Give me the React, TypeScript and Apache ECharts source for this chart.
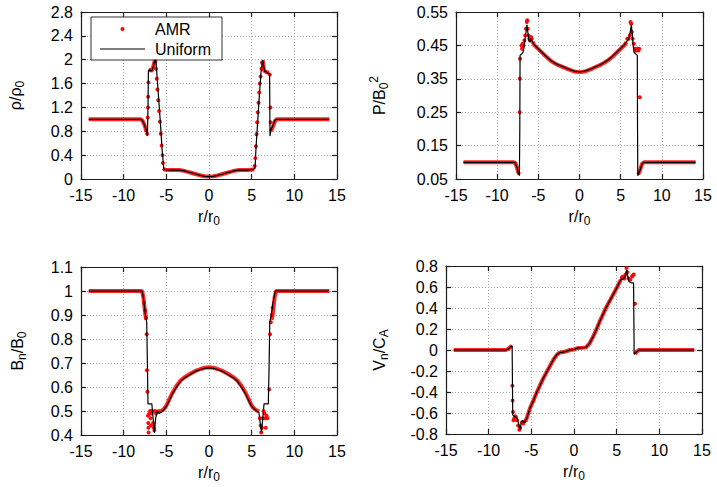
import React, { useEffect, useRef } from "react";
import * as echarts from "echarts";

type Pt = [number, number] | "-";

// ---------- axis ranges (min, max, interval) ----------
const X_RANGE = [-15, 15, 5];
const RHO_RANGE = [0, 2.8, 0.4];
const P_RANGE = [0.05, 0.55, 0.1];
const BN_RANGE = [0.4, 1.1, 0.1];
const VN_RANGE = [-0.8, 0.8, 0.2];

const LEGEND_NAMES = ["AMR", "Uniform"];

// ---------- density rho/rho0 ----------
const rhoUniform: Pt[] = [
  [-14.1, 1], [-8.0, 1], [-7.8, 0.98], [-7.6, 0.92], [-7.45, 0.86], [-7.3, 0.8], [-7.22, 0.72],
  [-7.15, 1.2], [-7.1, 1.82], [-6.9, 1.83], [-6.8, 1.81], [-6.65, 1.83], [-6.5, 1.9], [-6.3, 2.0],
  [-6.2, 1.95], [-6.05, 1.65], [-5.9, 1.35], [-5.7, 0.95], [-5.5, 0.5], [-5.3, 0.17], [-5.2, 0.155],
  [-4.5, 0.15], [-3.5, 0.15], [-3, 0.14], [-2.5, 0.12], [-2, 0.1], [-1.5, 0.08], [-1, 0.06],
  [-0.5, 0.045], [0, 0.04], [0.5, 0.045], [1, 0.06], [1.5, 0.08], [2, 0.1], [2.5, 0.12], [3, 0.14],
  [3.5, 0.15], [4.5, 0.15], [5.2, 0.16], [5.4, 0.18], [5.5, 0.5], [5.7, 0.95], [5.9, 1.4], [6.1, 1.8],
  [6.3, 2.0], [6.4, 1.9], [6.55, 1.8], [6.7, 1.8], [6.85, 1.77], [7.1, 1.77], [7.15, 0.72],
  [7.25, 0.82], [7.45, 0.88], [7.65, 0.96], [7.8, 1], [14.1, 1],
];
const rhoAmrBand: Pt[] = [
  [-14.1, 1], [-8.0, 1], [-7.8, 0.98], [-7.6, 0.92], [-7.45, 0.86], [-7.32, 0.79], "-",
  [-7.08, 1.84], [-6.9, 1.83], [-6.8, 1.81], [-6.65, 1.83], [-6.5, 1.9], [-6.35, 1.99], "-",
  [-5.35, 0.18], [-5.2, 0.155], [-4.5, 0.15], [-3.5, 0.15], [-3, 0.14], [-2.5, 0.12], [-2, 0.1],
  [-1.5, 0.08], [-1, 0.06], [-0.5, 0.045], [0, 0.04], [0.5, 0.045], [1, 0.06], [1.5, 0.08], [2, 0.1],
  [2.5, 0.12], [3, 0.14], [3.5, 0.15], [4.5, 0.15], [5.3, 0.16], "-",
  [6.3, 1.99], [6.45, 1.82], [6.6, 1.8], [6.75, 1.8], [6.9, 1.78], [7.05, 1.78], "-",
  [7.25, 0.8], [7.5, 0.88], [7.7, 0.96], [7.9, 1], [14.1, 1],
];
const rhoAmrDots: Pt[] = [
  [-7.25, 0.76], [-7.18, 1.03], [-7.15, 1.2], [-7.13, 1.38], [-7.1, 1.62], [-6.28, 1.98],
  [-6.2, 1.85], [-6.12, 1.68], [-6.05, 1.5], [-5.95, 1.32], [-5.85, 1.14], [-5.75, 0.96],
  [-5.65, 0.76], [-5.55, 0.56], [-5.45, 0.4], [-5.4, 0.27], [5.35, 0.22], [5.42, 0.35], [5.5, 0.55],
  [5.57, 0.75], [5.65, 0.95], [5.72, 1.12], [5.8, 1.28], [5.88, 1.45], [5.95, 1.6], [6.05, 1.72],
  [6.15, 1.85], [6.22, 1.95], [7.12, 1.75], [7.2, 1.2], [7.22, 0.95],
];

// ---------- pressure P/B0^2 ----------
const pUniform: Pt[] = [
  [-14.1, 0.1], [-8.0, 0.1], [-7.8, 0.098], [-7.6, 0.085], [-7.45, 0.07], [-7.3, 0.06], [-7.25, 0.2],
  [-7.22, 0.42], [-7.0, 0.425], [-6.85, 0.43], [-6.7, 0.45], [-6.55, 0.48], [-6.38, 0.512],
  [-6.28, 0.49], [-6.15, 0.465], [-6.0, 0.46], [-5.85, 0.47], [-5.7, 0.46], [-5.5, 0.452], [-5, 0.44],
  [-4.5, 0.428], [-4, 0.416], [-3.5, 0.405], [-3, 0.397], [-2.5, 0.391], [-2, 0.386], [-1.5, 0.381],
  [-1, 0.376], [-0.5, 0.372], [0, 0.371], [0.5, 0.372], [1, 0.376], [1.5, 0.381], [2, 0.387],
  [2.5, 0.392], [3, 0.399], [3.5, 0.407], [4, 0.417], [4.5, 0.429], [5, 0.441], [5.5, 0.453],
  [5.75, 0.462], [5.95, 0.468], [6.1, 0.48], [6.3, 0.512], [6.42, 0.48], [6.52, 0.45], [6.62, 0.43],
  [6.8, 0.425], [7.02, 0.42], [7.05, 0.2], [7.08, 0.06], [7.25, 0.07], [7.4, 0.08], [7.6, 0.095],
  [7.8, 0.1], [14.1, 0.1],
];
const pAmrBand: Pt[] = [
  [-14.1, 0.1], [-8.0, 0.1], [-7.8, 0.098], [-7.6, 0.085], [-7.45, 0.07], [-7.32, 0.064], "-",
  [-5.7, 0.461], [-5.5, 0.451], [-5, 0.439], [-4.5, 0.427], [-4, 0.415], [-3.5, 0.404], [-3, 0.396],
  [-2.5, 0.39], [-2, 0.385], [-1.5, 0.38], [-1, 0.375], [-0.5, 0.371], [0, 0.37], [0.5, 0.371],
  [1, 0.375], [1.5, 0.38], [2, 0.386], [2.5, 0.391], [3, 0.398], [3.5, 0.406], [4, 0.416],
  [4.5, 0.428], [5, 0.44], [5.5, 0.452], [5.7, 0.46], "-",
  [7.12, 0.064], [7.25, 0.07], [7.4, 0.08], [7.6, 0.095], [7.8, 0.1], [14.1, 0.1],
];
const pAmrDots: Pt[] = [
  [-7.27, 0.25], [-7.25, 0.35], [-7.22, 0.41], [-7.05, 0.45], [-6.98, 0.44], [-6.9, 0.455],
  [-6.8, 0.45], [-6.7, 0.465], [-6.6, 0.48], [-6.5, 0.5], [-6.4, 0.52], [-6.35, 0.525], [-6.28, 0.5],
  [-6.2, 0.48], [-6.1, 0.47], [-6.0, 0.465], [-5.9, 0.475], [-5.8, 0.47], [5.8, 0.47], [5.95, 0.47],
  [6.1, 0.48], [6.2, 0.52], [6.28, 0.515], [6.35, 0.49], [6.45, 0.47], [6.6, 0.455], [6.75, 0.44],
  [6.85, 0.435], [6.95, 0.44], [7.05, 0.44], [7.15, 0.435], [7.25, 0.44], [7.32, 0.295],
];

// ---------- normal field Bn/B0 ----------
const bnUniform: Pt[] = [
  [-14.1, 1], [-7.85, 1], [-7.7, 0.975], [-7.55, 0.93], [-7.45, 0.9], [-7.3, 0.87], [-7.22, 0.7],
  [-7.15, 0.53], [-6.7, 0.53], [-6.55, 0.47], [-6.4, 0.41], [-6.25, 0.47], [-6.05, 0.5], [-5.85, 0.49],
  [-5.6, 0.495], [-5.3, 0.505], [-5.0, 0.52], [-4.7, 0.54], [-4.3, 0.57], [-3.8, 0.6], [-3.3, 0.625],
  [-2.8, 0.64], [-2.2, 0.652], [-1.6, 0.665], [-1, 0.673], [-0.5, 0.678], [0, 0.68], [0.5, 0.678],
  [1, 0.673], [1.6, 0.665], [2.2, 0.652], [2.8, 0.64], [3.3, 0.625], [3.8, 0.6], [4.3, 0.57],
  [4.7, 0.54], [5.0, 0.52], [5.3, 0.508], [5.6, 0.5], [5.85, 0.495], [6.0, 0.45], [6.15, 0.41],
  [6.3, 0.47], [6.45, 0.53], [6.95, 0.53], [7.05, 0.7], [7.12, 0.87], [7.3, 0.9], [7.5, 0.95],
  [7.65, 0.98], [7.8, 1], [14.1, 1],
];
const bnAmrBand: Pt[] = [
  [-14.1, 1], [-7.85, 1], [-7.7, 0.975], [-7.55, 0.93], [-7.45, 0.9], [-7.35, 0.88], "-",
  [-6.1, 0.495], [-5.85, 0.5], [-5.6, 0.5], [-5.3, 0.508], [-5.0, 0.522], [-4.7, 0.545], [-4.3, 0.575],
  [-3.8, 0.605], [-3.3, 0.628], [-2.8, 0.642], [-2.2, 0.655], [-1.6, 0.667], [-1, 0.675], [-0.5, 0.68],
  [0, 0.682], [0.5, 0.68], [1, 0.675], [1.6, 0.667], [2.2, 0.655], [2.8, 0.642], [3.3, 0.628],
  [3.8, 0.605], [4.3, 0.575], [4.7, 0.545], [5.0, 0.522], [5.3, 0.51], [5.6, 0.502], [5.85, 0.497], "-",
  [7.35, 0.88], [7.45, 0.9], [7.55, 0.93], [7.7, 0.975], [7.85, 1], [14.1, 1],
];
const bnAmrDots: Pt[] = [
  [-7.6, 0.95], [-7.5, 0.92], [-7.4, 0.89], [-7.3, 0.82], [-7.27, 0.67], [-7.22, 0.58], [-7.15, 0.48],
  [-7.12, 0.45], [-7.1, 0.43], [-7.08, 0.41], [-7.0, 0.49], [-6.9, 0.5], [-6.85, 0.47], [-6.8, 0.44],
  [-6.72, 0.49], [-6.65, 0.5], [-6.55, 0.45], [-6.45, 0.43], [-6.4, 0.42], [-6.3, 0.5], [-6.2, 0.49],
  [5.95, 0.47], [6.05, 0.44], [6.12, 0.41], [6.2, 0.43], [6.3, 0.47], [6.4, 0.5], [6.5, 0.49],
  [6.6, 0.47], [6.65, 0.43], [6.75, 0.48], [6.85, 0.47], [7.05, 0.59], [7.15, 0.82], [7.25, 0.87],
  [7.35, 0.9], [7.45, 0.93],
];

// ---------- normal velocity Vn/CA ----------
const vnUniform: Pt[] = [
  [-14.1, 0], [-8.0, 0], [-7.7, 0.01], [-7.45, 0.03], [-7.25, 0.04], [-7.18, -0.62], [-7.0, -0.63],
  [-6.8, -0.64], [-6.6, -0.66], [-6.45, -0.72], [-6.33, -0.76], [-6.2, -0.7], [-6.05, -0.67],
  [-5.85, -0.69], [-5.7, -0.68], [-5.5, -0.64], [-5.14, -0.55], [-4.8, -0.49], [-4.4, -0.41],
  [-4, -0.34], [-3.6, -0.27], [-3.2, -0.21], [-2.8, -0.15], [-2.4, -0.09], [-2, -0.045],
  [-1.7, -0.025], [-1.3, -0.02], [-1, -0.015], [-0.5, 0], [0, 0.005], [0.5, 0.02], [1, 0.022],
  [1.4, 0.025], [1.8, 0.06], [2.2, 0.12], [2.6, 0.19], [3, 0.27], [3.4, 0.34], [3.8, 0.41],
  [4.2, 0.47], [4.6, 0.53], [5, 0.59], [5.3, 0.64], [5.5, 0.67], [5.8, 0.68], [6.0, 0.7],
  [6.18, 0.76], [6.3, 0.7], [6.45, 0.65], [6.7, 0.64], [6.98, 0.64], [7.05, -0.04], [7.3, -0.02],
  [7.6, 0], [14.1, 0],
];
const vnAmrBand: Pt[] = [
  [-14.1, 0], [-8.0, 0], [-7.7, 0.01], [-7.45, 0.03], [-7.28, 0.04], "-",
  [-5.7, -0.68], [-5.5, -0.64], [-5.14, -0.55], [-4.8, -0.49], [-4.4, -0.41], [-4, -0.34],
  [-3.6, -0.27], [-3.2, -0.21], [-2.8, -0.15], [-2.4, -0.09], [-2, -0.045], [-1.7, -0.025],
  [-1.3, -0.02], [-1, -0.015], [-0.5, 0], [0, 0.005], [0.5, 0.02], [1, 0.022], [1.4, 0.025],
  [1.8, 0.06], [2.2, 0.12], [2.6, 0.19], [3, 0.27], [3.4, 0.34], [3.8, 0.41], [4.2, 0.47],
  [4.6, 0.53], [5, 0.59], [5.3, 0.64], [5.5, 0.67], "-",
  [7.15, -0.04], [7.3, -0.02], [7.6, 0], [14.1, 0],
];
const vnAmrDots: Pt[] = [
  [-7.22, -0.34], [-7.2, -0.48], [-7.15, -0.59], [-7.1, -0.67], [-7.0, -0.65], [-6.9, -0.63],
  [-6.8, -0.64], [-6.7, -0.67], [-6.55, -0.72], [-6.4, -0.76], [-6.3, -0.74], [-6.1, -0.69],
  [-5.95, -0.7], [-5.8, -0.68], [5.6, 0.69], [5.75, 0.7], [5.9, 0.68], [6.05, 0.72], [6.15, 0.78],
  [6.25, 0.74], [6.4, 0.68], [6.6, 0.67], [6.8, 0.7], [6.9, 0.71], [7.0, 0.72], [7.15, 0.44],
];

// ---------- styling ----------
const FONT = "'Liberation Sans', Arial, Helvetica, sans-serif";
const AXIS_COLOR = "#1c1c1c";
const FS = 16;

const rich = {
  a: { fontSize: FS, fontFamily: FONT, color: "#000" },
  s: { fontSize: 12, fontFamily: FONT, color: "#000", padding: [10, 0, 0, 0] },
  u: { fontSize: 12, fontFamily: FONT, color: "#000", padding: [0, 0, 10, 0] },
};

const panels = [
  { grid: { left: 81, top: 12, width: 256, height: 167 }, y: RHO_RANGE, yName: "{a|ρ/ρ}{s|0}", yGap: 55, uni: rhoUniform, band: rhoAmrBand, dots: rhoAmrDots },
  { grid: { left: 456, top: 12, width: 247, height: 167 }, y: P_RANGE, yName: "{a|P/B}{s|0}{u|2}", yGap: 66, uni: pUniform, band: pAmrBand, dots: pAmrDots },
  { grid: { left: 81, top: 267, width: 256, height: 168 }, y: BN_RANGE, yName: "{a|B}{s|n}{a|/B}{s|0}", yGap: 53, uni: bnUniform, band: bnAmrBand, dots: bnAmrDots },
  { grid: { left: 446, top: 266, width: 256, height: 168 }, y: VN_RANGE, yName: "{a|V}{s|n}{a|/C}{s|A}", yGap: 56, uni: vnUniform, band: vnAmrBand, dots: vnAmrDots },
];

const axisLine = { show: true, onZero: false, lineStyle: { color: AXIS_COLOR, width: 1.2 } };
const axisTick = { show: true, inside: true, length: 5, lineStyle: { color: AXIS_COLOR, width: 1.2 } };
const splitLine = { show: true, lineStyle: { color: "#a8a8a8", width: 1, type: [1, 2] } };
const axisLabel = { show: true, color: "#000", fontSize: FS, fontFamily: FONT, margin: 8, showMinLabel: true, showMaxLabel: true };

const AMR_ICON = "path://M0,0M45,14M20.5,7a2,2 0 1,0 4,0a2,2 0 1,0 -4,0Z";
const UNI_ICON = "path://M0,0M45,14M0,6.4L45,6.4L45,7.6L0,7.6Z";

function buildOption() {
  const grid: any[] = [];
  const xAxis: any[] = [];
  const yAxis: any[] = [];
  const series: any[] = [];
  panels.forEach((p, i) => {
    grid.push({ ...p.grid, containLabel: false, outerBoundsMode: "none" });
    const xr = { min: X_RANGE[0], max: X_RANGE[1], interval: X_RANGE[2] };
    const yr = { min: p.y[0], max: p.y[1], interval: p.y[2] };
    xAxis.push({
      gridIndex: i, type: "value", position: "bottom", ...xr,
      name: "{a|r/r}{s|0}", nameLocation: "middle", nameGap: 26,
      nameTextStyle: { rich, fontFamily: FONT, fontSize: FS, color: "#000" },
      axisLine, axisTick, axisLabel, splitLine,
    });
    xAxis.push({
      gridIndex: i, type: "value", position: "top", ...xr,
      axisLine, axisTick, axisLabel: { show: false }, splitLine: { show: false },
    });
    yAxis.push({
      gridIndex: i, type: "value", position: "left", ...yr,
      name: p.yName, nameLocation: "middle", nameGap: p.yGap,
      nameTextStyle: { rich, fontFamily: FONT, fontSize: FS, color: "#000" },
      axisLine, axisTick, axisLabel, splitLine,
    });
    yAxis.push({
      gridIndex: i, type: "value", position: "right", ...yr,
      axisLine, axisTick, axisLabel: { show: false }, splitLine: { show: false },
    });
    const xi = 2 * i;
    series.push({
      type: "line", name: LEGEND_NAMES[0], xAxisIndex: xi, yAxisIndex: xi, data: p.band,
      showSymbol: false, symbol: "none", connectNulls: false, silent: true, z: 2,
      lineStyle: { color: "#ff0000", width: 4, opacity: 0.85 }, itemStyle: { color: "#ff0000" },
    });
    series.push({
      type: "scatter", name: LEGEND_NAMES[0], xAxisIndex: xi, yAxisIndex: xi, data: p.dots,
      symbol: "circle", symbolSize: 4, silent: true, z: 3,
      itemStyle: { color: "#ff0000", opacity: 0.95 },
    });
    series.push({
      type: "line", name: LEGEND_NAMES[1], xAxisIndex: xi, yAxisIndex: xi, data: p.uni,
      showSymbol: false, symbol: "none", silent: true, z: 4,
      lineStyle: { color: "#000", width: 1.2 }, itemStyle: { color: "#000" },
    });
  });
  return {
    animation: false,
    backgroundColor: "#fff",
    textStyle: { fontFamily: FONT },
    grid, xAxis, yAxis, series,
    legend: {
      data: [
        { name: LEGEND_NAMES[0], icon: AMR_ICON },
        { name: LEGEND_NAMES[1], icon: UNI_ICON },
      ],
      orient: "vertical", left: 91, top: 17,
      itemWidth: 45, itemHeight: 14, itemGap: 2,
      padding: [3, 11, 2, 9],
      backgroundColor: "#fff", borderColor: "#333", borderWidth: 1, borderRadius: 0,
      selectedMode: false,
      itemStyle: { borderWidth: 0 },
      textStyle: { fontSize: FS, fontFamily: FONT, color: "#000", padding: [0, 0, 0, 5], lineHeight: 18 },
    },
  };
}

export default function App() {
  const ref = useRef<HTMLDivElement>(null);
  useEffect(() => {
    if (!ref.current) return;
    const chart = echarts.init(ref.current, undefined, { renderer: "svg" });
    chart.setOption(buildOption() as any);
    return () => chart.dispose();
  }, []);
  return (
    <div
      ref={ref}
      style={{ position: "absolute", left: 0, top: 0, width: 717, height: 487, background: "#fff" }}
    />
  );
}
